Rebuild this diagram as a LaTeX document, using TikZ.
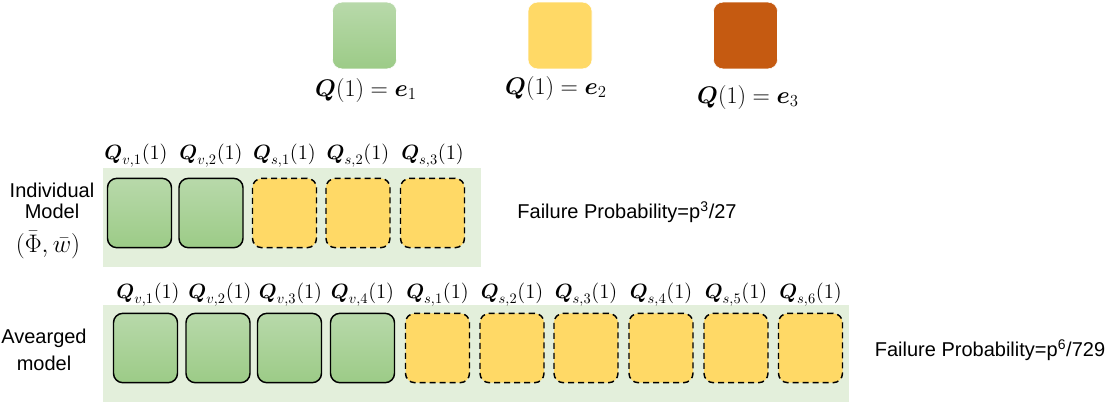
\documentclass[tikz,border=0pt]{standalone}
\usepackage{fix-cm}
\usepackage{amsmath}
\usepackage{fontspec}
\setmainfont{Liberation Sans}
\usetikzlibrary{positioning}
\definecolor{vgreentop}{HTML}{B8D9AA}
\definecolor{vgreenbot}{HTML}{9CCB87}
\definecolor{sgold}{HTML}{FFD966}
\definecolor{rust}{HTML}{C55A11}
\definecolor{panel}{HTML}{E3EFDB}

\begin{document}
\begin{tikzpicture}[
    x=0.75pt,y=-0.75pt,
    font=\fontsize{15}{16}\selectfont,
    legbox/.style={draw=white,thin,rounded corners=7pt,minimum width=48pt,minimum height=50pt},
    vbox/.style={draw=black,line width=1.1pt,rounded corners=7pt,
      top color=vgreentop,bottom color=vgreenbot,minimum width=48pt,minimum height=52pt},
    sbox/.style={draw=black,line width=1.1pt,dash pattern=on 4.5pt off 3pt,rounded corners=7pt,
      fill=sgold,minimum width=48pt,minimum height=52pt},
    qlab/.style={font=\fontsize{15.5}{17}\selectfont,inner sep=0pt},
    leglab/.style={font=\fontsize{18}{20}\selectfont,inner sep=0pt},
    side/.style={align=center,inner sep=0pt},
    sidemath/.style={font=\fontsize{19}{21}\selectfont,inner sep=0pt}
  ]
  \useasboundingbox (0,0) rectangle (1110,404);

  % legend
  \node[legbox,top color=vgreentop,bottom color=vgreenbot] (lg1) at (364.5,35.5) {};
  \node[legbox,fill=sgold] (lg2) at (560,35.5) {};
  \node[legbox,fill=rust] (lg3) at (745.5,35.5) {};
  \node[leglab] (le1) at (366,90) {$\boldsymbol{Q}(1)=\boldsymbol{e}_1$};
  \node[leglab] (le2) at (556,88) {$\boldsymbol{Q}(1)=\boldsymbol{e}_2$};
  \node[leglab] (le3) at (748,97) {$\boldsymbol{Q}(1)=\boldsymbol{e}_3$};

  % individual model
  \fill[panel] (103,168) rectangle (481,267);
  \node[side] (indiv) at (52,201) {Individual\\Model};
  \node[sidemath] (phiw) at (48,245) {$(\bar{\Phi},\bar{w})$};
  \node[vbox] (iv1) at (139.5,213) {};
  \node[vbox] (iv2) at (211,213) {};
  \node[sbox] (is1) at (284.5,213) {};
  \node[sbox] (is2) at (358,213) {};
  \node[sbox] (is3) at (432.5,213) {};
  \node[qlab] (liv1) at (136,156) {$\boldsymbol{Q}_{v,1}(1)$};
  \node[qlab] (liv2) at (211,156) {$\boldsymbol{Q}_{v,2}(1)$};
  \node[qlab] (lis1) at (284.5,156) {$\boldsymbol{Q}_{s,1}(1)$};
  \node[qlab] (lis2) at (358,156) {$\boldsymbol{Q}_{s,2}(1)$};
  \node[qlab] (lis3) at (432.5,156) {$\boldsymbol{Q}_{s,3}(1)$};
  \node (ifail) at (627,212) {Failure Probability=p\textsuperscript{3}/27};

  % averaged model
  \fill[panel] (103,305) rectangle (849,402);
  \node[side] (avg) at (44,350) {Avearged\\[4pt]model};
  \node[vbox] (av1) at (145.5,348) {};
  \node[vbox] (av2) at (218,348) {};
  \node[vbox] (av3) at (289.5,348) {};
  \node[vbox] (av4) at (362.5,348) {};
  \node[sbox] (as1) at (437.5,348) {};
  \node[sbox] (as2) at (512,348) {};
  \node[sbox] (as3) at (586,348) {};
  \node[sbox] (as4) at (661,348) {};
  \node[sbox] (as5) at (736,348) {};
  \node[sbox] (as6) at (810.5,348) {};
  \node[qlab] (lav1) at (148,295) {$\boldsymbol{Q}_{v,1}(1)$};
  \node[qlab] (lav2) at (220,295) {$\boldsymbol{Q}_{v,2}(1)$};
  \node[qlab] (lav3) at (290.5,295) {$\boldsymbol{Q}_{v,3}(1)$};
  \node[qlab] (lav4) at (362.5,295) {$\boldsymbol{Q}_{v,4}(1)$};
  \node[qlab] (las1) at (437.5,295) {$\boldsymbol{Q}_{s,1}(1)$};
  \node[qlab] (las2) at (512,295) {$\boldsymbol{Q}_{s,2}(1)$};
  \node[qlab] (las3) at (586,295) {$\boldsymbol{Q}_{s,3}(1)$};
  \node[qlab] (las4) at (661,295) {$\boldsymbol{Q}_{s,4}(1)$};
  \node[qlab] (las5) at (736,295) {$\boldsymbol{Q}_{s,5}(1)$};
  \node[qlab] (las6) at (810.5,295) {$\boldsymbol{Q}_{s,6}(1)$};
  \node (afail) at (990,350) {Failure Probability=p\textsuperscript{6}/729};
\end{tikzpicture}
\end{document}
